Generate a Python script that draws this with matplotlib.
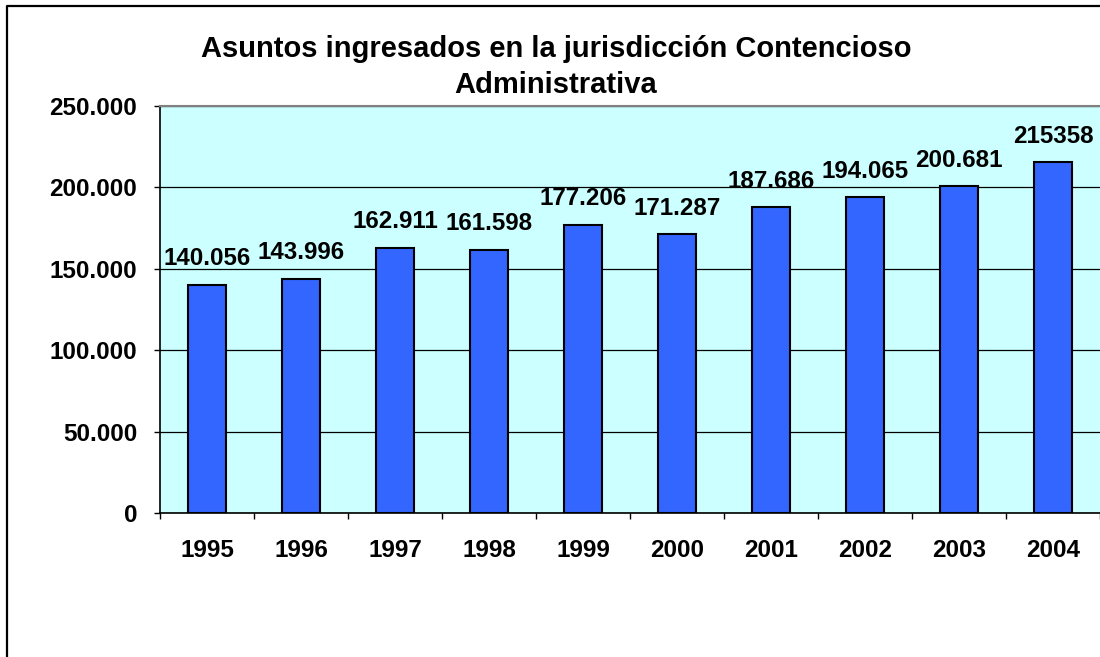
import numpy as np
import matplotlib
matplotlib.use('Agg')
import matplotlib.pyplot as plt
from matplotlib.lines import Line2D
from matplotlib.ticker import FuncFormatter

# datos
anios = ['1995', '1996', '1997', '1998', '1999', '2000', '2001', '2002', '2003', '2004']
asuntos = [140056, 143996, 162911, 161598, 177206, 171287, 187686, 194065, 200681, 215358]
etiquetas = ['140.056', '143.996', '162.911', '161.598', '177.206', '171.287',
             '187.686', '194.065', '200.681', '215358']
titulo1 = 'Asuntos ingresados en la jurisdicción Contencioso'
titulo2 = 'Administrativa'

plt.rcParams['font.family'] = ['Liberation Sans', 'DejaVu Sans']
plt.rcParams['font.weight'] = 'bold'

W, H = 1100, 657
fig = plt.figure(figsize=(W/100, H/100), dpi=100)
fig.patch.set_facecolor('white')

# borde exterior (recortado a la derecha y abajo)
fig.add_artist(Line2D([7/W, 7/W, 1.0], [0, 1-6/H, 1-6/H], transform=fig.transFigure,
                      color='black', lw=1.6))

# titulo
fig.text(556/W, 1-57/H, titulo1, ha='center', va='baseline', fontsize=21, fontweight='bold')
fig.text(556/W, 1-93/H, titulo2, ha='center', va='baseline', fontsize=21, fontweight='bold')

ax = fig.add_axes([160/W, (H-513)/H, 940/W, 407/H])
ax.set_facecolor('#CCFFFF')

x = np.arange(len(anios))
ax.bar(x, asuntos, width=0.4, color='#3366FF', edgecolor='black', linewidth=1.5, zorder=2)

for i, (v, t) in enumerate(zip(asuntos, etiquetas)):
    ax.annotate(t, (i, v), xytext=(0, 26*0.72), textcoords='offset points',
                ha='center', va='center', fontsize=17.4, fontweight='bold')

ax.set_xlim(-0.5, len(anios)-0.5)
ax.set_ylim(0, 250000)
ax.set_yticks(np.arange(0, 250001, 50000))
ax.yaxis.set_major_formatter(FuncFormatter(lambda v, p: f'{int(v):,}'.replace(',', '.')))
ax.tick_params(axis='y', direction='out', length=4.3, width=1, pad=12, labelsize=17.5, color='black')

ax.set_xticks(np.arange(-0.5, len(anios)), labels=[])
ax.set_xticks(x, labels=anios, minor=True)
ax.tick_params(axis='x', which='major', direction='out', length=4.3, width=1)
ax.tick_params(axis='x', which='minor', length=0, pad=19, labelsize=17.5)

ax.yaxis.grid(True, color='black', lw=0.9)
ax.set_axisbelow(True)

ax.spines['right'].set_visible(False)
ax.spines['top'].set_color('#808080')
ax.spines['top'].set_linewidth(1.5)
ax.spines['left'].set_linewidth(1.2)
ax.spines['bottom'].set_linewidth(1.2)

fig.savefig('out.png', dpi=100)
